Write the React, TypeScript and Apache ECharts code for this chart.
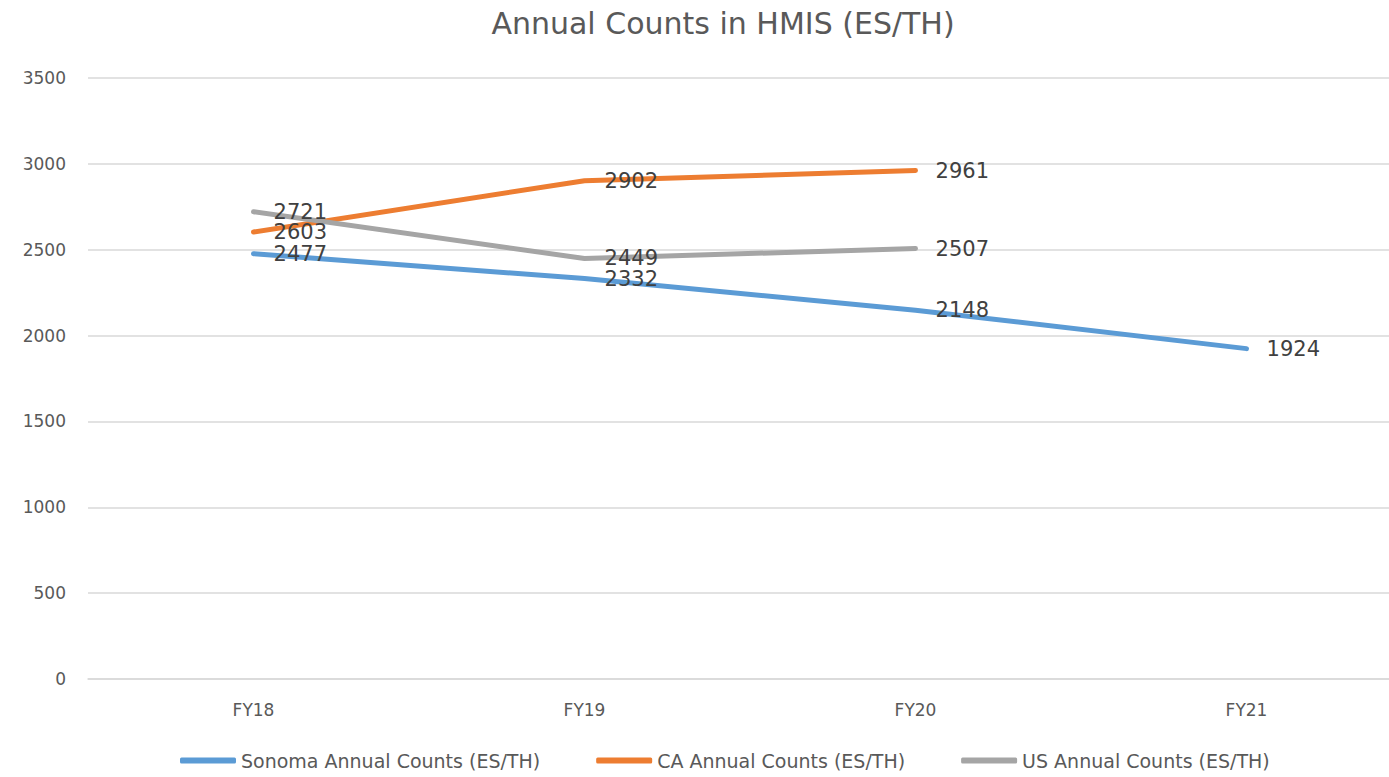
import React, { useEffect, useRef } from "react";
import * as echarts from "echarts";

const categories = ["FY18", "FY19", "FY20", "FY21"];
const sonoma = [2477, 2332, 2148, 1924];
const ca = [2603, 2902, 2961, null];
const us = [2721, 2449, 2507, null];
const seriesNames = [
  "Sonoma Annual Counts (ES/TH)",
  "CA Annual Counts (ES/TH)",
  "US Annual Counts (ES/TH)",
];
const colors = ["#5B9BD5", "#ED7D31", "#A5A5A5"];

const FONT = "'DejaVu Sans', sans-serif";
const VIEW_W = 1389;
const CHART_W = 1412;

export default function App() {
  const ref = useRef<HTMLDivElement>(null);
  useEffect(() => {
    if (!ref.current) return;
    const chart = echarts.init(ref.current, undefined, { renderer: "svg" });
    const mk = (name: string, data: (number | null)[], color: string) => ({
      name,
      type: "line",
      data,
      symbol: "circle",
      symbolSize: 0.1,
      showSymbol: true,
      lineStyle: { width: 5, color, cap: "round" },
      itemStyle: { color },
      label: {
        show: true,
        position: "right",
        distance: 20,
        color: "#404040",
        fontSize: 21,
        fontFamily: FONT,
      },
      emphasis: { disabled: true },
    });
    chart.setOption({
      animation: false,
      textStyle: { fontFamily: FONT },
      title: {
        text: "Annual Counts in HMIS (ES/TH)",
        left: 718,
        textAlign: "center",
        top: 3,
        textStyle: { fontSize: 30, fontWeight: "normal", color: "#595959", fontFamily: FONT },
      },
      grid: { left: 88, right: 0, top: 78, bottom: 98 },
      xAxis: {
        type: "category",
        data: categories,
        boundaryGap: true,
        axisLine: { show: true, lineStyle: { color: "#D9D9D9", width: 1.5 } },
        axisTick: { show: false },
        axisLabel: { color: "#595959", fontSize: 17, margin: 22, fontFamily: FONT },
      },
      yAxis: {
        type: "value",
        min: 0,
        max: 3500,
        interval: 500,
        axisLine: { show: false },
        axisTick: { show: false },
        axisLabel: {
          color: "#595959",
          fontSize: 17,
          margin: 22,
          fontFamily: FONT,
          formatter: (v: number) => String(v),
        },
        splitLine: { lineStyle: { color: "#D9D9D9", width: 1.5 } },
      },
      legend: {
        bottom: 2,
        left: 175,
        itemWidth: 56,
        itemHeight: 6,
        itemGap: 56,
        icon: "roundRect",
        textStyle: { color: "#595959", fontSize: 19, fontFamily: FONT },
        data: seriesNames,
      },
      series: [
        mk(seriesNames[0], sonoma, colors[0]),
        mk(seriesNames[1], ca, colors[1]),
        mk(seriesNames[2], us, colors[2]),
      ],
    });
    return () => chart.dispose();
  }, []);
  return (
    <div style={{ position: "absolute", left: 0, top: 0, width: VIEW_W, height: 777, overflow: "hidden" }}>
      <div ref={ref} style={{ width: CHART_W, height: 777 }} />
    </div>
  );
}
